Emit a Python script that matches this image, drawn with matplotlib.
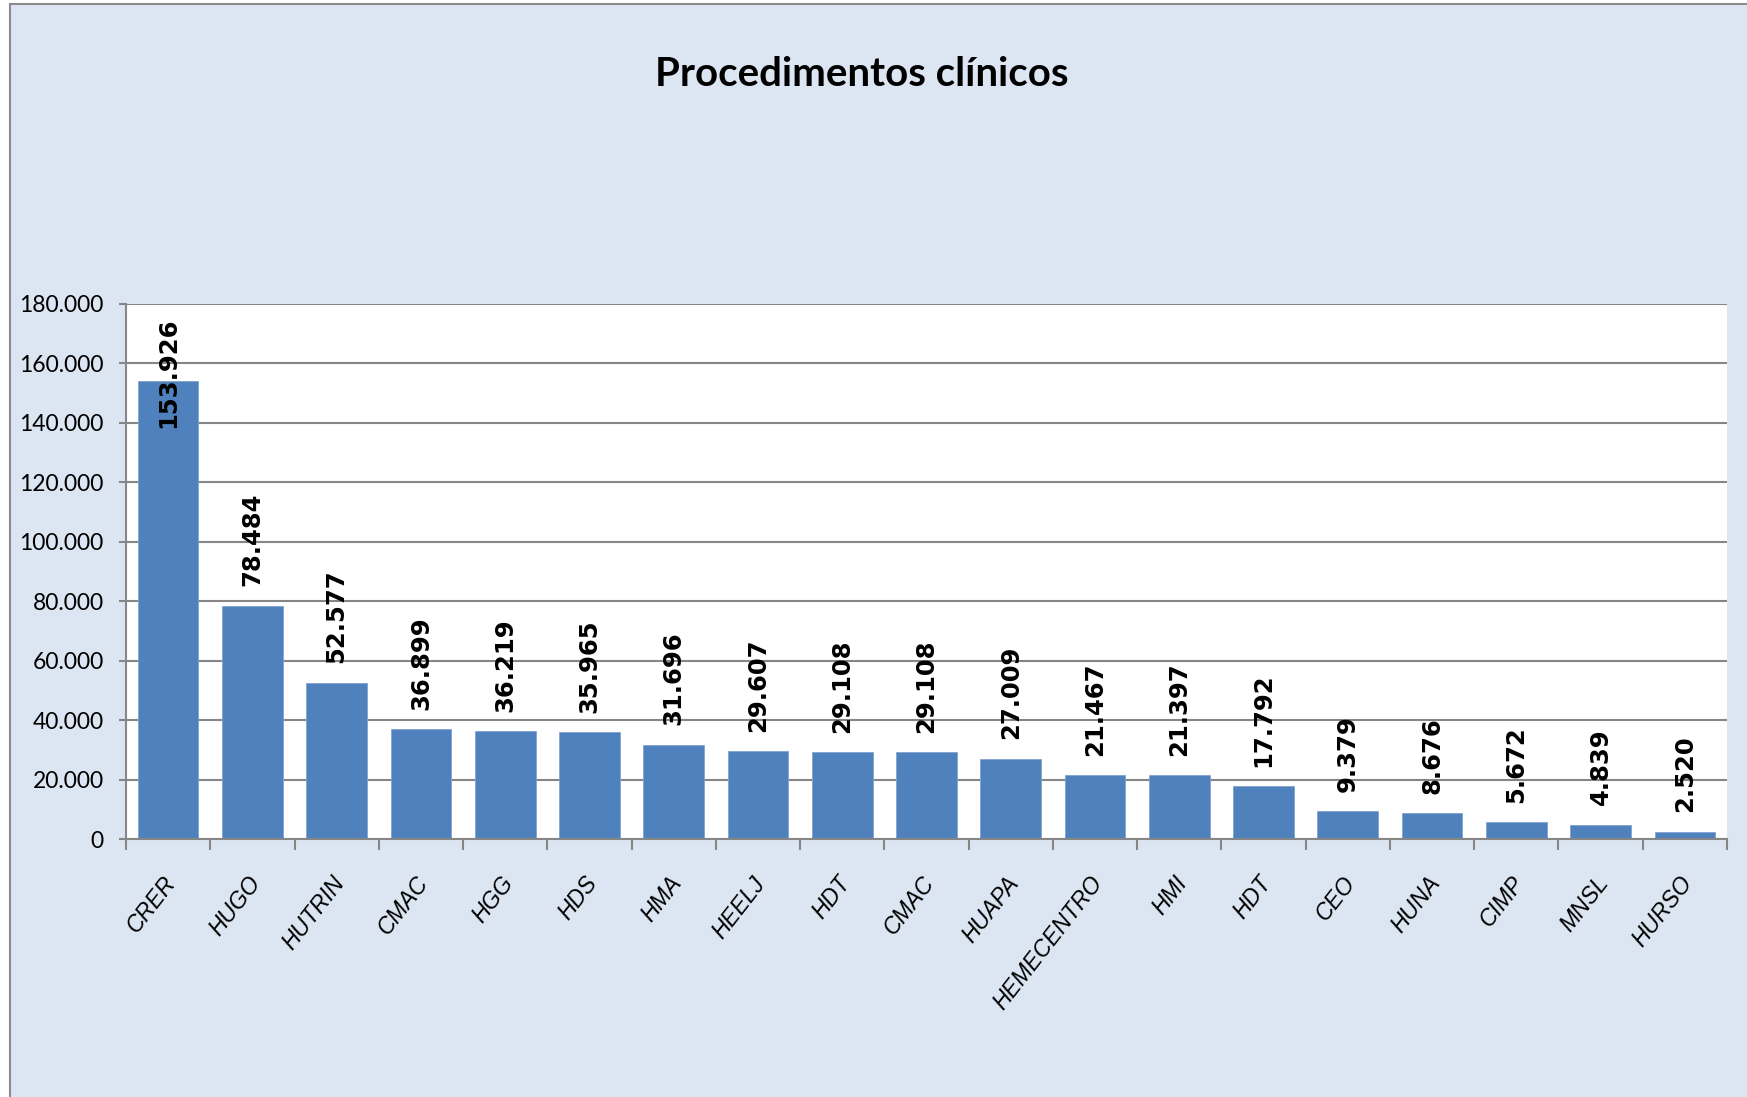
import matplotlib
matplotlib.use("Agg")
import matplotlib.pyplot as plt
from matplotlib.patches import Rectangle
from matplotlib.ticker import FuncFormatter, FixedLocator

categories = ["CRER", "HUGO", "HUTRIN", "CMAC", "HGG", "HDS", "HMA", "HEELJ", "HDT",
              "CMAC", "HUAPA", "HEMECENTRO", "HMI", "HDT", "CEO", "HUNA", "CIMP",
              "MNSL", "HURSO"]
values = [153926, 78484, 52577, 36899, 36219, 35965, 31696, 29607, 29108,
          29108, 27009, 21467, 21397, 17792, 9379, 8676, 5672, 4839, 2520]
yticks = [0, 20000, 40000, 60000, 80000, 100000, 120000, 140000, 160000, 180000]
title = "Procedimentos clínicos"

SANS = ["Lato", "Liberation Sans", "DejaVu Sans"]
ITAL = ["Liberation Sans", "DejaVu Sans"]
BG = "#DCE6F2"
BAR = "#4F81BD"
GRID = "#868686"

W, H = 1747, 1097
fig = plt.figure(figsize=(W / 100, H / 100), dpi=100, facecolor="white")
fig.patches.append(Rectangle((10 / W, -0.1), 1.2, 1 - 4 / H + 0.1, transform=fig.transFigure,
                             facecolor=BG, edgecolor="#8C8C8C", linewidth=1.5, zorder=-10))

ax = fig.add_axes([126 / W, 1 - 839 / H, (1727 - 126) / W, (839 - 304) / H])
ax.set_facecolor("white")
x = list(range(len(values)))
ax.bar(x, values, width=0.72, color=BAR, edgecolor="#7FA3D1", linewidth=0.6, zorder=3)
ax.set_xlim(-0.5, len(values) - 0.5)
ax.set_ylim(0, 180000)
ax.yaxis.set_major_locator(FixedLocator(yticks))
ax.yaxis.set_major_formatter(FuncFormatter(lambda v, p: f"{int(v):,}".replace(",", ".")))
ax.grid(axis="y", color=GRID, linewidth=1.5, zorder=1)
ax.set_axisbelow(True)
for s in ["top", "right"]:
    ax.spines[s].set_visible(False)
for s in ["left", "bottom"]:
    ax.spines[s].set_color(GRID)
    ax.spines[s].set_linewidth(1.5)
    ax.spines[s].set_zorder(4)
ax.tick_params(axis="y", length=5, width=1.5, color=GRID, pad=11, labelsize=16.5)
for lab in ax.get_yticklabels():
    lab.set_family(SANS)

# x ticks at category boundaries, labels at centers
ax.set_xticks([i - 0.5 for i in range(len(values) + 1)])
ax.set_xticklabels([])
ax.tick_params(axis="x", length=8, width=1.5, color=GRID)
for i, c in enumerate(categories):
    ax.annotate(c, xy=(i, 0), xycoords=("data", "axes fraction"), xytext=(-4, -24),
                textcoords="offset points", rotation=52, rotation_mode="anchor",
                ha="right", va="top", fontsize=16.5, style="italic", family=ITAL)

fig.canvas.draw()
renderer = fig.canvas.get_renderer()
ax_bbox = ax.get_window_extent(renderer)
for i, v in enumerate(values):
    lbl = f"{v:,}".replace(",", ".")
    t = ax.annotate(lbl, xy=(i, v), xytext=(0, 14), textcoords="offset points",
                    rotation=90, ha="center", va="bottom", fontsize=17.5,
                    fontweight="bold", family="DejaVu Sans", zorder=5)
    bb = t.get_window_extent(renderer)
    if bb.y1 > ax_bbox.y1 - 12:
        t.remove()
        ax.annotate(lbl, xy=(i, 1), xycoords=("data", "axes fraction"), xytext=(0, -10),
                    textcoords="offset points", rotation=90, ha="center", va="top",
                    fontsize=17.5, fontweight="bold", family="DejaVu Sans", zorder=5)

fig.text(862 / W, 1 - 75 / H, title, ha="center", va="center", fontsize=29,
         fontweight="bold", family=SANS)

fig.savefig("out.png", dpi=100, facecolor=fig.get_facecolor())
